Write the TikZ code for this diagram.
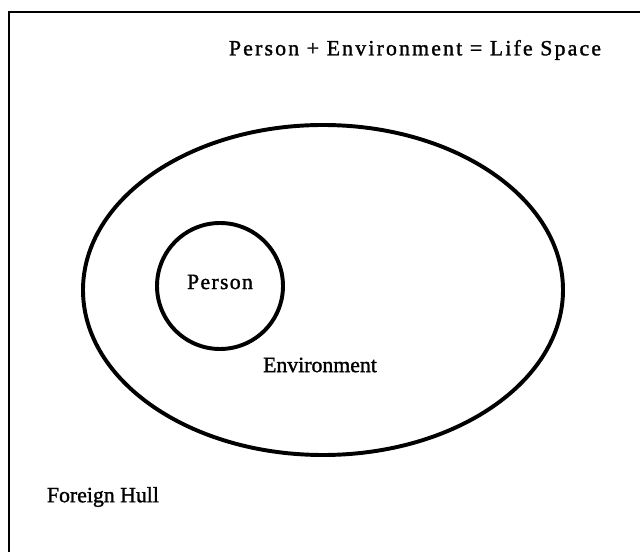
\documentclass[tikz,border=0pt]{standalone}
\usepackage{fontspec}
\setmainfont{Liberation Serif}[FakeBold=1.4]
\usetikzlibrary{positioning}

\tikzset{
  label text/.style={font=\fontsize{15.5}{18}\selectfont},
  spaced text/.style={font=\fontsize{15.5}{18}\selectfont\addfontfeatures{LetterSpace=#1}},
  thick ring/.style={line width=2.8pt}
}

\begin{document}
\begin{tikzpicture}
    \useasboundingbox (0cm, 0cm) rectangle (16cm, 13.8cm);

    % Frame (top and left edges only)
    \draw[line width=2pt] (16cm, 13.5cm) -- (0.225cm, 13.5cm) -- (0.225cm, 0cm);

    % Title
    \node[spaced text=10] (title) at (10.375cm, 12.55cm) {Person + Environment = Life Space};

    % Environment
    \draw[thick ring] (8.075cm, 6.55cm) ellipse (6cm and 4.125cm);
    \node[label text] (environment) at (8cm, 4.675cm) {Environment};

    % Person
    \node[thick ring, draw, circle, minimum size=3.15cm] (personring) at (5.5cm, 6.65cm) {};
    \node[spaced text=6] (person) at (5.5cm, 6.75cm) {Person};

    % Foreign hull
    \node[label text, anchor=west] (hull) at (1.05cm, 1.375cm) {Foreign Hull};
\end{tikzpicture}
\end{document}
